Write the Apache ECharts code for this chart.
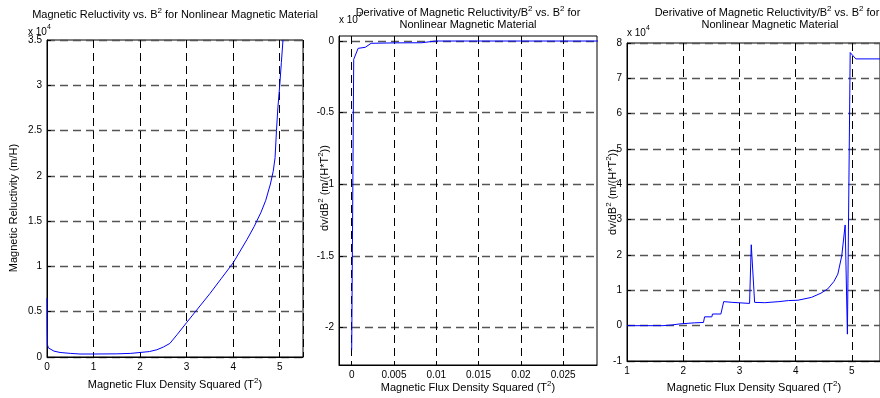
<!DOCTYPE html>
<html><head><meta charset="utf-8">
<script src="https://cdn.jsdelivr.net/npm/echarts@6/dist/echarts.min.js"></script>
<style>html,body{margin:0;padding:0;background:#fff}#c{width:880px;height:398px}</style>
</head><body><div id="c"></div>
<script>
// Panel 1: magnetic reluctivity (x10^4 m/H) vs B^2 (T^2)
const reluctX = [0, 0.005, 0.01, 0.03, 0.07, 0.15, 0.28, 0.5, 0.71, 1.0, 1.5, 1.8, 2.0, 2.2, 2.36, 2.5, 2.64, 2.8, 3.0, 3.25, 3.5, 3.75, 4.0, 4.15, 4.3, 4.45, 4.6, 4.7, 4.8, 4.86, 4.9, 4.93, 4.96, 5.0, 5.035, 5.07];
const reluctY = [0.65, 0.3, 0.135, 0.1, 0.08, 0.065, 0.05, 0.04, 0.033, 0.033, 0.035, 0.04, 0.05, 0.06, 0.08, 0.11, 0.15, 0.25, 0.38, 0.54, 0.7, 0.87, 1.04, 1.17, 1.3, 1.44, 1.6, 1.73, 1.91, 2.05, 2.2, 2.5, 2.75, 3.0, 3.25, 3.5];
// Panel 2: derivative (x10^7) near zero
const derivLowX = [0, 0.00024, 0.00076, 0.0016, 0.0023, 0.005, 0.0083, 0.0099, 0.015, 0.02, 0.025, 0.03];
const derivLowY = [-2.157, -0.128, -0.051, -0.044, -0.016, -0.013, -0.012, 0, 0, 0, 0, 0];
// Panel 3: derivative (x10^4) for B^2 >= 1
const derivHighX = [1, 1.64, 1.8, 1.94, 2.2, 2.36, 2.38, 2.51, 2.52, 2.67, 2.72, 2.87, 3.18, 3.21, 3.27, 3.45, 3.7, 3.87, 4.04, 4.28, 4.45, 4.57, 4.68, 4.75, 4.82, 4.88, 4.92, 4.97, 5.07, 5.5];
const derivHighY = [0, 0, 0.02, 0.05, 0.08, 0.09, 0.25, 0.25, 0.33, 0.33, 0.68, 0.66, 0.63, 2.29, 0.66, 0.65, 0.68, 0.71, 0.72, 0.80, 0.92, 1.04, 1.25, 1.46, 1.98, 2.85, -0.24, 7.73, 7.55, 7.55];
// Tick values
const p2XTicks = [0, 0.005, 0.01, 0.015, 0.02, 0.025];
const p2YTicks = [-2, -1.5, -1, -0.5, 0];

const FONT = 'Liberation Sans, Arial, sans-serif';
const zip = (a, b) => a.map((v, i) => [v, b[i]]);

const axisCommon = () => ({
  type: 'value',
  axisLine: {show: true, onZero: false, lineStyle: {color: '#000', width: 1}},
  axisTick: {show: true, inside: true, length: 4, lineStyle: {color: '#000'}},
  axisLabel: {color: '#000', fontSize: 10, fontFamily: FONT, margin: 5},
  splitLine: {show: true, lineStyle: {color: '#000', width: 1, type: [8, 5]}}
});
function ax(extra) {
  const a = axisCommon();
  for (const k in extra) {
    if (typeof extra[k] === 'object' && !Array.isArray(extra[k]) && a[k]) a[k] = Object.assign({}, a[k], extra[k]);
    else a[k] = extra[k];
  }
  return a;
}
const hSplit = {show: true, lineStyle: {color: '#555', width: 1.4, type: [8, 5]}};

// Text with superscripts: segments alternate base / superscript
const measureCtx = document.createElement('canvas').getContext('2d');
function measure(text, size) { measureCtx.font = size + 'px ' + FONT; return measureCtx.measureText(text).width; }
function supText(x, y, segs, opts) {
  opts = opts || {};
  const base = opts.size || 11, sup = opts.supSize || 8, rise = opts.rise || 4;
  const widths = segs.map(s => measure(s[0], s[1] ? sup : base));
  const total = widths.reduce((p, c) => p + c, 0);
  let cur = opts.align === 'left' ? 0 : -total / 2;
  const children = segs.map((s, i) => {
    const el = {type: 'text', x: cur, y: s[1] ? -rise : 0, silent: true,
      style: {text: s[0], font: (s[1] ? sup : base) + 'px ' + FONT, fill: '#000', align: 'left', verticalAlign: 'middle'}};
    cur += widths[i];
    return el;
  });
  return {type: 'group', x: x, y: y, rotation: opts.rot || 0, silent: true, children: children};
}
const titleLine1 = [['Derivative of Magnetic Reluctivity/B'], ['2', 1], [' vs. B'], ['2', 1], [' for']];
const xName = [['Magnetic Flux Density Squared (T'], ['2', 1], [')']];
const yName23 = [['dv/dB'], ['2', 1], [' (m/(H*T'], ['2', 1], ['))']];

const graphics = [
  supText(175, 15, [['Magnetic Reluctivity vs. B'], ['2', 1], [' for Nonlinear Magnetic Material']]),
  supText(468, 13, titleLine1),
  supText(468, 25, [['Nonlinear Magnetic Material']]),
  supText(767, 13, titleLine1),
  supText(770, 25, [['Nonlinear Magnetic Material']]),
  supText(28, 32, [['x 10'], ['4', 1]], {align: 'left', size: 10, supSize: 7, rise: 5}),
  supText(339, 20, [['x 10'], ['7', 1]], {align: 'left', size: 10, supSize: 7, rise: 5}),
  supText(627, 33, [['x 10'], ['4', 1]], {align: 'left', size: 10, supSize: 7, rise: 5}),
  supText(175, 385, xName),
  supText(468, 388, xName),
  supText(754, 388, xName),
  supText(14, 208, [['Magnetic Reluctivity (m/H)']], {rot: Math.PI / 2}),
  supText(325, 188, yName23, {rot: Math.PI / 2}),
  supText(613, 192, yName23, {rot: Math.PI / 2})
];

const option = {
  animation: false,
  backgroundColor: '#fff',
  grid: [
    {left: 47, top: 40, width: 256, height: 317, show: true, borderColor: '#000', borderWidth: 1, backgroundColor: 'transparent'},
    {left: 339, top: 36, width: 258, height: 329, show: true, borderColor: '#000', borderWidth: 1, backgroundColor: 'transparent'},
    {left: 627, top: 43, width: 256, height: 318, show: true, borderColor: '#000', borderWidth: 1, backgroundColor: 'transparent'}
  ],
  xAxis: [
    ax({gridIndex: 0, min: 0, max: 5.5, interval: 1, axisLabel: {showMaxLabel: false}}),
    ax({gridIndex: 1, min: -0.0015, max: 0.029,
      axisTick: {customValues: p2XTicks}, axisLabel: {customValues: p2XTicks, formatter: v => String(+v.toFixed(4))}}),
    ax({gridIndex: 2, min: 1, max: 5.5, interval: 1, axisLabel: {showMaxLabel: false}})
  ],
  yAxis: [
    ax({gridIndex: 0, min: 0, max: 3.5, interval: 0.5, splitLine: hSplit}),
    ax({gridIndex: 1, min: -2.26, max: 0.035, splitLine: hSplit,
      axisTick: {customValues: p2YTicks}, axisLabel: {customValues: p2YTicks, formatter: v => String(+v.toFixed(2))}}),
    ax({gridIndex: 2, min: -1, max: 8, interval: 1, splitLine: hSplit})
  ],
  series: [
    {type: 'line', xAxisIndex: 0, yAxisIndex: 0, data: zip(reluctX, reluctY), showSymbol: false, clip: true, lineStyle: {color: '#0000ff', width: 1}},
    {type: 'line', xAxisIndex: 1, yAxisIndex: 1, data: zip(derivLowX, derivLowY), showSymbol: false, clip: true, lineStyle: {color: '#0000ff', width: 1}},
    {type: 'line', xAxisIndex: 2, yAxisIndex: 2, data: zip(derivHighX, derivHighY), showSymbol: false, clip: true, lineStyle: {color: '#0000ff', width: 1}}
  ],
  graphic: graphics
};
const chart = echarts.init(document.getElementById('c'), null, {renderer: 'canvas'});
chart.setOption(option);
</script></body></html>
